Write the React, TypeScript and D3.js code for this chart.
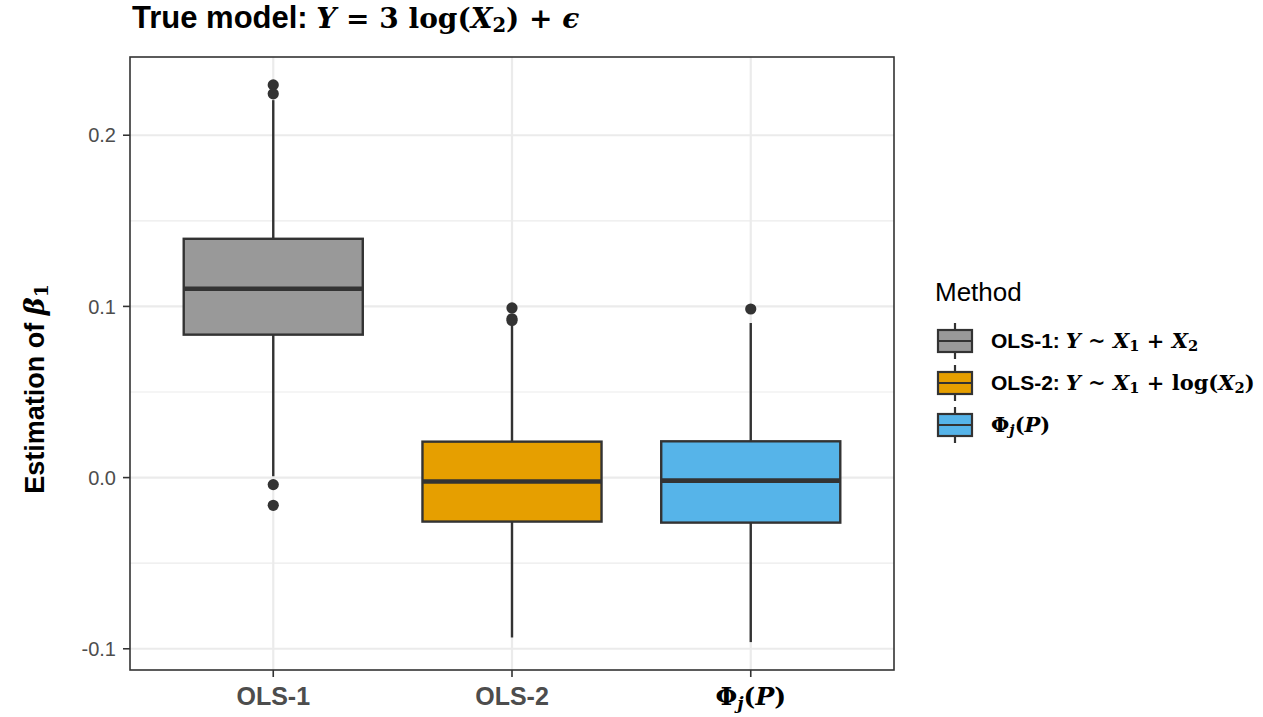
import React from 'react'
import * as d3 from 'd3'

const categories = ['OLS-1', 'OLS-2', 'Phi']
const fills = ['#999999', '#E69F00', '#56B4E9']
const lowerWhisker = [0.0008, -0.0934, -0.0961]
const q1 = [0.0835, -0.0257, -0.0263]
const medians = [0.1103, -0.0023, -0.0018]
const q3 = [0.1395, 0.021, 0.0212]
const upperWhisker = [0.2205, 0.0893, 0.0903]
const outliers = [
  [0.2294, 0.2242, -0.0041, -0.0162],
  [0.0991, 0.0928, 0.0918],
  [0.0985],
]
const yTicks = [-0.1, 0.0, 0.1, 0.2]
const yMinor = [-0.05, 0.05, 0.15]

const ink = '#333333'
const grid = '#EBEBEB'
const sans = '"Liberation Sans", Arial, Helvetica, sans-serif'
const serif = '"DejaVu Serif", "Liberation Serif", serif'

const W = 1263
const H = 717
const panel = { left: 130, right: 894, top: 57, bottom: 670 }

// small pieces for the plotmath-style labels
const Mi = ({ children }: { children: React.ReactNode }) => (
  <tspan fontFamily={serif} fontStyle="italic" fontWeight="bold">{children}</tspan>
)
const Mr = ({ children }: { children: React.ReactNode }) => (
  <tspan fontFamily={serif} fontWeight="bold">{children}</tspan>
)
const Sub = ({ children, italic }: { children: React.ReactNode; italic?: boolean }) => (
  <tspan
    fontFamily={serif}
    fontWeight="bold"
    fontStyle={italic ? 'italic' : 'normal'}
    fontSize="70%"
    baselineShift="-22%"
  >
    {children}
  </tspan>
)

const PhiLabel = () => (
  <>
    <Mr>Φ</Mr>
    <Sub italic>j</Sub>
    <Mr>(</Mr>
    <Mi>P</Mi>
    <Mr>)</Mr>
  </>
)

const App = () => {
  const x = d3.scalePoint<string>().domain(categories).range([panel.left, panel.right]).padding(0.6)
  const y = d3.scaleLinear().domain([-0.1124, 0.2457]).range([panel.bottom, panel.top])
  const boxW = x.step() * 0.75

  const legendX = 936
  const legendRows = [341, 383, 425]

  return (
    <svg
      width={W}
      height={H}
      viewBox={`0 0 ${W} ${H}`}
      style={{ position: 'fixed', left: 0, top: 0, background: 'white' }}
      fontFamily={sans}
    >
      <rect width={W} height={H} fill="white" />

      {/* title */}
      <text x={132} y={28} fontSize={31} fontWeight="bold" fill="black">
        True model:{' '}
        <tspan fontSize={28}>
          <Mi>Y</Mi>
          <Mr> = 3 log(</Mr>
          <Mi>X</Mi>
          <Sub>2</Sub>
          <Mr>) + </Mr>
          <Mi>ϵ</Mi>
        </tspan>
      </text>

      {/* grid */}
      {yMinor.map((v) => (
        <line key={'m' + v} x1={panel.left} x2={panel.right} y1={y(v)} y2={y(v)} stroke={grid} strokeWidth={1.2} />
      ))}
      {yTicks.map((v) => (
        <line key={'g' + v} x1={panel.left} x2={panel.right} y1={y(v)} y2={y(v)} stroke={grid} strokeWidth={2.2} />
      ))}
      {categories.map((c) => (
        <line key={'v' + c} x1={x(c)} x2={x(c)} y1={panel.top} y2={panel.bottom} stroke={grid} strokeWidth={2.2} />
      ))}

      {/* boxes */}
      {categories.map((c, i) => {
        const cx = x(c) as number
        return (
          <g key={c}>
            <line x1={cx} x2={cx} y1={y(q3[i])} y2={y(upperWhisker[i])} stroke={ink} strokeWidth={2.4} />
            <line x1={cx} x2={cx} y1={y(q1[i])} y2={y(lowerWhisker[i])} stroke={ink} strokeWidth={2.4} />
            <rect
              x={cx - boxW / 2}
              y={y(q3[i])}
              width={boxW}
              height={y(q1[i]) - y(q3[i])}
              fill={fills[i]}
              stroke={ink}
              strokeWidth={2.4}
            />
            <line x1={cx - boxW / 2} x2={cx + boxW / 2} y1={y(medians[i])} y2={y(medians[i])} stroke={ink} strokeWidth={4.6} />
            {outliers[i].map((o, k) => (
              <circle key={k} cx={cx} cy={y(o)} r={5.6} fill={ink} />
            ))}
          </g>
        )
      })}

      {/* panel border */}
      <rect
        x={panel.left}
        y={panel.top}
        width={panel.right - panel.left}
        height={panel.bottom - panel.top}
        fill="none"
        stroke={ink}
        strokeWidth={1.6}
      />

      {/* y axis */}
      {yTicks.map((v) => (
        <g key={'t' + v}>
          <line x1={panel.left - 7} x2={panel.left} y1={y(v)} y2={y(v)} stroke={ink} strokeWidth={1.6} />
          <text x={panel.left - 14} y={y(v)} dy="0.36em" textAnchor="end" fontSize={20} fill="#4D4D4D">
            {d3.format('.1f')(v).replace('−', '-')}
          </text>
        </g>
      ))}
      <text transform={`translate(44, 389) rotate(-90)`} textAnchor="middle" fontSize={27} fontWeight="bold" fill="black">
        Estimation of <Mi>β</Mi>
        <Sub>1</Sub>
      </text>

      {/* x axis */}
      {categories.map((c, i) => (
        <g key={'x' + c}>
          <line x1={x(c)} x2={x(c)} y1={panel.bottom} y2={panel.bottom + 7} stroke={ink} strokeWidth={1.6} />
          <text x={x(c)} y={705} textAnchor="middle" fontSize={25} fontWeight="bold" fill={i === 2 ? 'black' : '#4D4D4D'}>
            {i === 2 ? <PhiLabel /> : c}
          </text>
        </g>
      ))}

      {/* legend */}
      <text x={935} y={301} fontSize={26} fill="black">Method</text>
      {legendRows.map((cy, i) => {
        const kx = legendX + 19
        return (
          <g key={'l' + i}>
            <line x1={kx} x2={kx} y1={cy - 18} y2={cy + 18} stroke={ink} strokeWidth={2.2} />
            <rect x={legendX + 2} y={cy - 11} width={34} height={22} fill={fills[i]} stroke={ink} strokeWidth={2.2} />
            <line x1={legendX + 2} x2={legendX + 36} y1={cy} y2={cy} stroke={ink} strokeWidth={2.2} />
          </g>
        )
      })}
      <text x={991} y={legendRows[0] + 7} fontSize={21} fontWeight="bold" fill="black">
        OLS-1:{' '}
        <Mi>Y</Mi>
        <Mr> ~ </Mr>
        <Mi>X</Mi>
        <Sub>1</Sub>
        <Mr> + </Mr>
        <Mi>X</Mi>
        <Sub>2</Sub>
      </text>
      <text x={991} y={legendRows[1] + 7} fontSize={21} fontWeight="bold" fill="black">
        OLS-2:{' '}
        <Mi>Y</Mi>
        <Mr> ~ </Mr>
        <Mi>X</Mi>
        <Sub>1</Sub>
        <Mr> + log(</Mr>
        <Mi>X</Mi>
        <Sub>2</Sub>
        <Mr>)</Mr>
      </text>
      <text x={991} y={legendRows[2] + 7} fontSize={21} fontWeight="bold" fill="black">
        <PhiLabel />
      </text>
    </svg>
  )
}

export default App
